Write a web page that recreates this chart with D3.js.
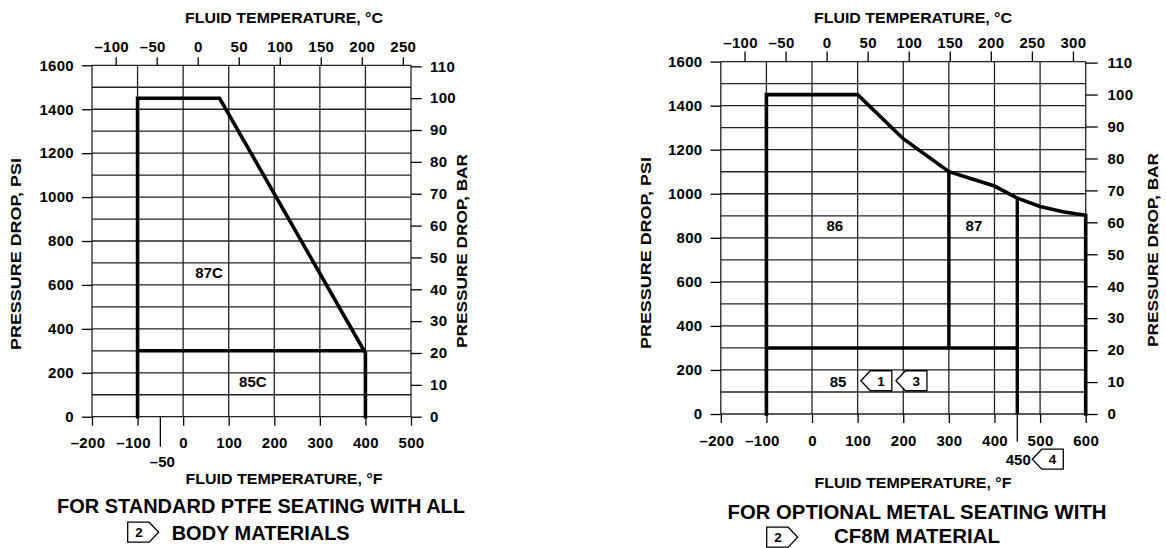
<!DOCTYPE html>
<html><head><meta charset="utf-8">
<script src="https://cdn.jsdelivr.net/npm/d3@7"></script>
<style>
html,body{margin:0;padding:0;background:#fff;}
svg{display:block;}
.tick text{font-family:"Liberation Sans",Arial,sans-serif;font-weight:bold;font-size:15px;fill:#000;letter-spacing:0.3px;}
.ttl{font-family:"Liberation Sans",Arial,sans-serif;font-weight:bold;font-size:14px;fill:#000;}
.cap{font-family:"Liberation Sans",Arial,sans-serif;font-weight:700;font-size:21px;fill:#000;}
.zone{font-family:"Liberation Sans",Arial,sans-serif;font-weight:bold;font-size:15px;fill:#000;}
.flag text{font-family:"Liberation Sans",Arial,sans-serif;font-weight:bold;font-size:13.5px;fill:#000;}
</style></head><body>
<svg id="c" width="1166" height="548"></svg>
<script>
// ---------- data ----------
const psiTicks = [0, 200, 400, 600, 800, 1000, 1200, 1400, 1600];
const psiGrid = [0, 100, 200, 300, 400, 500, 600, 700, 800, 900, 1000, 1100, 1200, 1300, 1400, 1500, 1600];
const barTicks = [0, 10, 20, 30, 40, 50, 60, 70, 80, 90, 100, 110];

const leftFTicks = [-200, -100, 0, 100, 200, 300, 400, 500];
const leftCTicks = [-100, -50, 0, 50, 100, 150, 200, 250];
const leftExtraF = [-50];
const leftBoundary = [[-100, 0], [-100, 1450], [80, 1450], [400, 290], [400, 0]];
const leftDividers = [[[-100, 300], [400, 300]]];
const leftZoneLabels = [{text: "87C", f: 57, psi: 654}, {text: "85C", f: 153, psi: 159}];
const leftFlags = [];

const rightFTicks = [-200, -100, 0, 100, 200, 300, 400, 500, 600];
const rightCTicks = [-100, -50, 0, 50, 100, 150, 200, 250, 300];
const rightExtraF = [450];
const rightBoundary = [[-100, 0], [-100, 1450], [100, 1450], [200, 1250], [300, 1100], [400, 1035], [450, 980], [500, 942], [550, 918], [600, 902], [600, 0]];
const rightDividers = [[[-100, 300], [450, 300]], [[300, 1100], [300, 300]], [[450, 980], [450, 0]]];
const rightZoneLabels = [{text: "86", f: 50, psi: 855}, {text: "87", f: 355, psi: 855}, {text: "85", f: 57, psi: 147}];
const rightFlags = [{n: "1", f: 107, psi: 151}, {n: "3", f: 184, psi: 151}];

const titleC = "FLUID TEMPERATURE, °C";
const titleF = "FLUID TEMPERATURE, °F";
const titlePsi = "PRESSURE DROP, PSI";
const titleBar = "PRESSURE DROP, BAR";
const PSI_PER_BAR = 14.5038;

const svg = d3.select("#c");
const fmt = d => d < 0 ? "\u2013" + Math.abs(d) : String(d);

function flag(g, xp, yc, dir, label) {
  const w = 31, h = 20, notch = 9.5;
  const t = yc - h / 2, b = yc + h / 2;
  let pts, cx;
  if (dir < 0) {
    pts = [[xp, yc], [xp + notch, t], [xp + w, t], [xp + w, b], [xp + notch, b]];
    cx = xp + (notch + w) / 2;
  } else {
    pts = [[xp, t], [xp + w - notch, t], [xp + w, yc], [xp + w - notch, b], [xp, b]];
    cx = xp + (w - notch) / 2 + 0.5;
  }
  const fg = g.append("g").attr("class", "flag");
  fg.append("path").attr("d", d3.line()(pts) + "Z").attr("fill", "#fff").attr("stroke", "#000").attr("stroke-width", 1.3);
  fg.append("text").attr("x", cx).attr("y", yc + 5).attr("text-anchor", "middle").text(label);
}

function drawChart(cfg) {
  const g = svg.append("g");
  const fDom = [cfg.fTicks[0], cfg.fTicks[cfg.fTicks.length - 1]];
  const x = d3.scaleLinear().domain(fDom).range(cfg.xRange);
  const y = d3.scaleLinear().domain([0, 1600]).range(cfg.yRange);
  const xC = d3.scaleLinear().domain(fDom.map(f => (f - 32) / 1.8)).range(cfg.xRange);
  const yB = d3.scaleLinear().domain([0, 1600 / PSI_PER_BAR]).range(cfg.yRange);
  const x0 = x(fDom[0]), x1 = x(fDom[1]);

  g.append("g").selectAll("line").data(psiGrid).join("line")
    .attr("x1", x0).attr("x2", x1).attr("y1", d => y(d)).attr("y2", d => y(d))
    .attr("stroke", "#222").attr("stroke-width", 1.3);
  g.append("g").selectAll("line").data(cfg.fTicks).join("line")
    .attr("x1", d => x(d)).attr("x2", d => x(d)).attr("y1", y(0)).attr("y2", y(1600))
    .attr("stroke", "#222").attr("stroke-width", 1.3);

  const styleAxis = sel => {
    sel.select(".domain").remove();
    sel.selectAll(".tick line").attr("stroke", "#000").attr("stroke-width", 1.3);
  };
  const shiftNeg = sel => sel.selectAll(".tick text").attr("dx", d => d < 0 ? -4.5 : 0);
  g.append("g").attr("transform", `translate(${x0},0)`)
    .call(d3.axisLeft(y).tickValues(psiTicks).tickSize(cfg.lTick).tickPadding(8).tickFormat(fmt)).call(styleAxis);
  g.append("g").attr("transform", `translate(${x1},0)`)
    .call(d3.axisRight(yB).tickValues(barTicks).tickSize(cfg.rTick).tickPadding(cfg.rPad).tickFormat(fmt)).call(styleAxis);
  g.append("g").attr("transform", `translate(0,${y(1600)})`)
    .call(d3.axisTop(xC).tickValues(cfg.cTicks).tickSize(cfg.tTick).tickPadding(cfg.tPad).tickFormat(fmt)).call(styleAxis).call(shiftNeg);
  g.append("g").attr("transform", `translate(0,${y(0)})`)
    .call(d3.axisBottom(x).tickValues(cfg.fTicks).tickSize(9).tickPadding(cfg.bPad).tickFormat(fmt)).call(styleAxis).call(shiftNeg);

  const ex = g.append("g").selectAll("g").data(cfg.extraF).join("g");
  ex.append("line").attr("x1", d => x(d)).attr("x2", d => x(d)).attr("y1", y(0)).attr("y2", y(0) + cfg.extraLen)
    .attr("stroke", "#000").attr("stroke-width", 1.3);

  const line = d3.line().x(d => x(d[0])).y(d => y(d[1]));
  g.append("path").attr("d", line(cfg.boundary)).attr("fill", "none").attr("stroke", "#000")
    .attr("stroke-width", 3.6).attr("stroke-linejoin", "miter").attr("stroke-linecap", "square");
  g.selectAll(".div").data(cfg.dividers).join("path").attr("d", line).attr("fill", "none")
    .attr("stroke", "#000").attr("stroke-width", 3.4).attr("stroke-linecap", "butt");

  g.selectAll(".zone").data(cfg.zones).join("text").attr("class", "zone")
    .attr("x", d => x(d.f)).attr("y", d => y(d.psi) + 5.4).attr("text-anchor", "middle").text(d => d.text);

  cfg.flags.forEach(d => flag(g, x(d.f), y(d.psi), -1, d.n));

  const tt = (txt, xx, yy, len, rot) => {
    const t = g.append("text").attr("class", "ttl").attr("text-anchor", "middle")
      .attr("textLength", len).attr("lengthAdjust", "spacingAndGlyphs").text(txt);
    if (rot) t.attr("transform", `translate(${xx},${yy}) rotate(-90)`);
    else t.attr("x", xx).attr("y", yy);
  };
  tt(titleC, cfg.cx, cfg.cTitleY, 198);
  tt(titleF, cfg.cx, cfg.fTitleY, 197);
  tt(titlePsi, cfg.psiTitleX, cfg.sideTitleY, 192, true);
  tt(titleBar, cfg.barTitleX, cfg.sideTitleY - 3, 194, true);
  return {x, y};
}

const L = drawChart({
  fTicks: leftFTicks, cTicks: leftCTicks, extraF: leftExtraF, extraLen: 30,
  xRange: [92, 411], yRange: [416.7, 65.3],
  lTick: 10, rTick: 10.7, rPad: 8.3, tTick: 8, tPad: 5.2, bPad: 11.5,
  boundary: leftBoundary, dividers: leftDividers, zones: leftZoneLabels, flags: leftFlags,
  cx: 284, cTitleY: 23.3, fTitleY: 484.3, psiTitleX: 21, barTitleX: 467, sideTitleY: 254
});
svg.append("g").selectAll("text").data(leftExtraF).join("text").attr("class", "zone")
  .attr("x", d => L.x(d) + 2).attr("y", 467).attr("text-anchor", "middle").text(fmt);

const R = drawChart({
  fTicks: rightFTicks, cTicks: rightCTicks, extraF: rightExtraF, extraLen: 27.7,
  xRange: [720.8, 1085.7], yRange: [414, 61.6],
  lTick: 10.3, rTick: 12, rPad: 9.7, tTick: 10, tPad: 3.6, bPad: 12.2,
  boundary: rightBoundary, dividers: rightDividers, zones: rightZoneLabels, flags: rightFlags,
  cx: 913, cTitleY: 22.5, fTitleY: 488.3, psiTitleX: 651, barTitleX: 1158, sideTitleY: 253
});
svg.append("g").selectAll("text").data(rightExtraF).join("text").attr("class", "zone")
  .attr("x", d => R.x(d) + 13.5).attr("y", 465.4).attr("text-anchor", "end").text(fmt);
rightExtraF.forEach(d => flag(svg, R.x(d) + 15, 459.2, -1, "4"));

const capG = svg.append("g");
capG.append("text").attr("class", "cap").attr("x", 261).attr("y", 512.7).attr("text-anchor", "middle")
  .attr("textLength", 408).attr("lengthAdjust", "spacingAndGlyphs").text("FOR STANDARD PTFE SEATING WITH ALL");
capG.append("text").attr("class", "cap").attr("x", 171.7).attr("y", 539.5)
  .attr("textLength", 178).attr("lengthAdjust", "spacingAndGlyphs").text("BODY MATERIALS");
flag(capG, 127.7, 532.2, 1, "2");
capG.append("text").attr("class", "cap").attr("x", 917).attr("y", 519.3).attr("text-anchor", "middle")
  .attr("textLength", 379).attr("lengthAdjust", "spacingAndGlyphs").text("FOR OPTIONAL METAL SEATING WITH");
capG.append("text").attr("class", "cap").attr("x", 834).attr("y", 543.3)
  .attr("textLength", 166).attr("lengthAdjust", "spacingAndGlyphs").text("CF8M MATERIAL");
flag(capG, 766.7, 537.2, 1, "2");
</script>
</body></html>
